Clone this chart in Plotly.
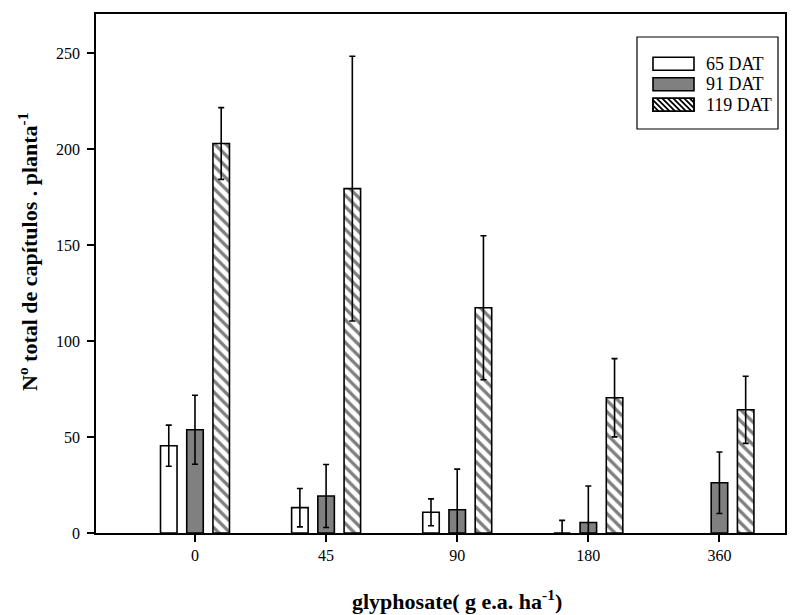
import plotly.graph_objects as go

# Glyphosate doses (g e.a. ha-1) and number of capitula per plant at each sampling date
doses = ["0", "45", "90", "180", "360"]
x_pos = [0, 1, 2, 3, 4]

dat65 = [45.5, 13.2, 10.8, 0.0, None]
err65 = [10.7, 10.0, 7.0, 6.6, 0.0]

dat91 = [53.8, 19.3, 12.1, 5.5, 26.2]
err91 = [18.0, 16.4, 21.2, 19.0, 16.0]

dat119 = [203.0, 179.5, 117.4, 70.5, 64.2]
err119 = [18.7, 69.0, 37.5, 20.4, 17.5]

y_ticks = [0, 50, 100, 150, 200, 250]
series_names = ["65 DAT", "91 DAT", "119 DAT"]

FONT = "Liberation Serif, Times New Roman, serif"
OUTLINE = dict(color="black", width=1.6)
GRAY = "#808080"

W, H = 806, 615
ML, MR, MT, MB = 96, 21, 14, 82
PW, PH = W - ML - MR, H - MT - MB


def px(x):
    """pixel column -> paper x"""
    return (x - ML) / PW


def py(y):
    """pixel row -> paper y"""
    return (H - MB - y) / PH


def err(values):
    return dict(type="data", array=values, visible=True,
                color="black", thickness=1.6, width=3)


fig = go.Figure()
fig.add_trace(go.Bar(
    x=x_pos, y=dat65, name=series_names[0], error_y=err(err65),
    marker=dict(color="white", line=OUTLINE),
))
fig.add_trace(go.Bar(
    x=x_pos, y=dat91, name=series_names[1], error_y=err(err91),
    marker=dict(color=GRAY, line=OUTLINE),
))
fig.add_trace(go.Bar(
    x=x_pos, y=dat119, name=series_names[2], error_y=err(err119),
    marker=dict(color="white", line=OUTLINE,
                pattern=dict(shape="\\", fgcolor="black", bgcolor="white",
                             size=8, solidity=0.42)),
))

axis_common = dict(
    showline=True, linecolor="black", linewidth=1.5, mirror=True,
    ticks="outside", ticklen=7, tickwidth=1.5, tickcolor="black",
    showgrid=False, zeroline=False,
    tickfont=dict(family=FONT, size=16, color="black"),
)

fig.update_layout(
    width=W, height=H,
    margin=dict(l=ML, r=MR, t=MT, b=MB),
    paper_bgcolor="white", plot_bgcolor="white",
    barmode="group", bargap=0.4, bargroupgap=0.37,
    font=dict(family=FONT, color="black"),
    showlegend=False,
    xaxis=dict(range=[-0.755, 4.5], tickmode="array",
               tickvals=x_pos, ticktext=doses, **axis_common),
    yaxis=dict(range=[0, 270.5], tickmode="array", tickvals=y_ticks,
               ticklabelstandoff=4, **axis_common),
)

# axis titles
TITLE_FONT = dict(family=FONT, size=22, color="black")
fig.add_annotation(xref="paper", yref="paper", x=px(457), y=py(600),
                   xanchor="center", yanchor="middle", showarrow=False,
                   text="<b>glyphosate( g e.a. ha<sup>-1</sup>)</b>", font=TITLE_FONT)
fig.add_annotation(xref="paper", yref="paper", x=px(28), y=py(252),
                   xanchor="center", yanchor="middle", showarrow=False,
                   textangle=-90,
                   text="<b>N<sup>o</sup> total de capítulos . planta<sup>-1</sup></b>",
                   font=TITLE_FONT)

# ---- boxed legend with wide swatches ----
box = dict(x0=637, x1=778, y0=37, y1=129)
fig.add_shape(type="rect", xref="paper", yref="paper",
              x0=px(box["x0"]), x1=px(box["x1"]),
              y0=py(box["y1"]), y1=py(box["y0"]),
              line=dict(color="black", width=1.2), fillcolor="white")

sw_l, sw_r, sw_h = 653, 694, 13
row_y = [63.7, 84.2, 104.7]
sw_fill = ["white", GRAY, "white"]
text_x = 704

for i, (name, yc) in enumerate(zip(series_names, row_y)):
    top, bot = yc - sw_h / 2, yc + sw_h / 2
    fig.add_shape(type="rect", xref="paper", yref="paper",
                  x0=px(sw_l), x1=px(sw_r), y0=py(bot), y1=py(top),
                  line=dict(color="black", width=1.6), fillcolor=sw_fill[i])
    if i == 2:
        # back-slash hatching clipped to the swatch
        period = 5.5
        segs = []
        c = sw_l - (bot - top)
        while c < sw_r:
            t0 = max(0.0, sw_l - c)
            t1 = min(bot - top, sw_r - c)
            if t1 > t0:
                xa, ya = c + t0, top + t0
                xb, yb = c + t1, top + t1
                segs.append(f"M{px(xa):.5f},{py(ya):.5f}L{px(xb):.5f},{py(yb):.5f}")
            c += period
        fig.add_shape(type="path", xref="paper", yref="paper",
                      path="".join(segs), line=dict(color="black", width=1.8))
        fig.add_shape(type="rect", xref="paper", yref="paper",
                      x0=px(sw_l), x1=px(sw_r), y0=py(bot), y1=py(top),
                      line=dict(color="black", width=1.6))
    fig.add_annotation(xref="paper", yref="paper", x=px(text_x), y=py(yc),
                       xanchor="left", yanchor="middle", showarrow=False,
                       text=name, font=dict(family=FONT, size=18, color="black"))

fig.write_html("out.html")
